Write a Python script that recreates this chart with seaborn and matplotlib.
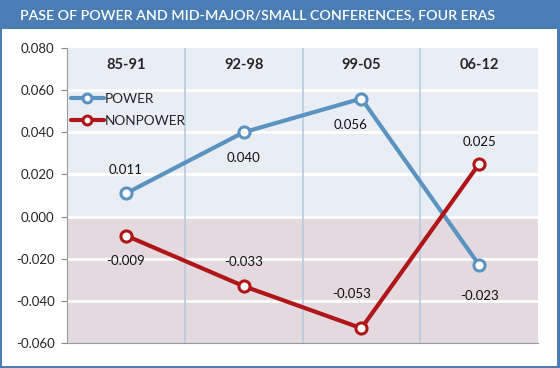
import pandas as pd
import matplotlib.pyplot as plt
import seaborn as sns
from matplotlib.patches import Rectangle

# PASE by conference group, four eras
eras = ["85-91", "92-98", "99-05", "06-12"]
power = [0.011, 0.040, 0.056, -0.023]
nonpower = [-0.009, -0.033, -0.053, 0.025]

df = pd.DataFrame({
    "era": eras * 2,
    "pase": power + nonpower,
    "group": ["POWER"] * 4 + ["NONPOWER"] * 4,
})

# value label offsets (pixels, dx/dy from the point)
power_off = [(0, 23), (0, -26), (-11, -26), (0, -31)]
nonpower_off = [(0, -25), (0, 24), (-10, 34), (0, 22)]

sns.set_style("white")
plt.rcParams["font.family"] = ["Lato", "DejaVu Sans"]

blue = "#5a93bf"
red = "#b01518"
px = 72 / 100  # pixels -> points

fig = plt.figure(figsize=(5.6, 3.68), dpi=100)
# frame: blue title bar + thin blue border
fig.patches.append(Rectangle((0, 0), 1, 1, transform=fig.transFigure,
                             facecolor="#4a7db3", edgecolor="none", zorder=-3))
fig.patches.append(Rectangle((2 / 560, 2 / 368), 555 / 560, 337 / 368,
                             transform=fig.transFigure, facecolor="white",
                             edgecolor="none", zorder=-2))
fig.text(258 / 560, 1 - 15 / 368, "PASE OF POWER AND MID-MAJOR/SMALL CONFERENCES, FOUR ERAS",
         ha="center", va="center", color="white", fontsize=10.2, fontweight="semibold")

ax = fig.add_axes([67 / 560, 25 / 368, 471 / 560, 295 / 368])
ax.axhspan(0, 0.08, color="#e9eef5", zorder=0)
ax.axhspan(-0.06, 0, color="#e3d9df", zorder=0)
for y in [-0.04, -0.02, 0.0, 0.02, 0.04, 0.06]:
    ax.axhline(y, color="white", lw=2, zorder=1)
for x in [0.5, 1.5, 2.5]:
    ax.axvline(x, color="#b7cbe0", lw=1.2, zorder=1)

for grp, c in [("POWER", blue), ("NONPOWER", red)]:
    sns.lineplot(data=df[df["group"] == grp], x="era", y="pase", color=c, label=grp,
                 marker="o", markersize=8, markerfacecolor="white",
                 markeredgecolor=c, markeredgewidth=2.2, linewidth=3,
                 ax=ax, zorder=3)

for vals, offs in [(power, power_off), (nonpower, nonpower_off)]:
    for i, (v, (dx, dy)) in enumerate(zip(vals, offs)):
        ax.annotate(f"{v:.3f}", (i, v), xytext=(dx * px, dy * px), textcoords="offset points",
                    ha="center", va="center", fontsize=9.5, color="#111111", zorder=4)

for i, e in enumerate(eras):
    ax.text(i, 0.072, e, ha="center", va="center", fontsize=10.5, fontweight="bold")

ax.set_xlim(-0.5, 3.5)
ax.set_ylim(-0.06, 0.08)
ax.set_yticks([-0.06, -0.04, -0.02, 0.0, 0.02, 0.04, 0.06, 0.08])
ax.set_yticklabels([f"{t:.3f}" for t in ax.get_yticks()], fontsize=9.5)
ax.set_xticks([])
ax.set_xlabel("")
ax.set_ylabel("")
ax.tick_params(axis="y", length=4, color="#888888", pad=5, direction="out", left=True)
for s in ["top", "right"]:
    ax.spines[s].set_visible(False)
for s in ["left", "bottom"]:
    ax.spines[s].set_color("#9a9a9a")
    ax.spines[s].set_linewidth(0.8)

h, l = ax.get_legend_handles_labels()
ax.legend(h, l, loc="upper left", bbox_to_anchor=(4 / 471, 1 - 45 / 295), frameon=False,
          fontsize=9.8, handlelength=2.4, handletextpad=0.1, labelspacing=0.7,
          borderaxespad=0.0, borderpad=0.0, markerscale=0.8)

fig.savefig("out.png", dpi=100)
